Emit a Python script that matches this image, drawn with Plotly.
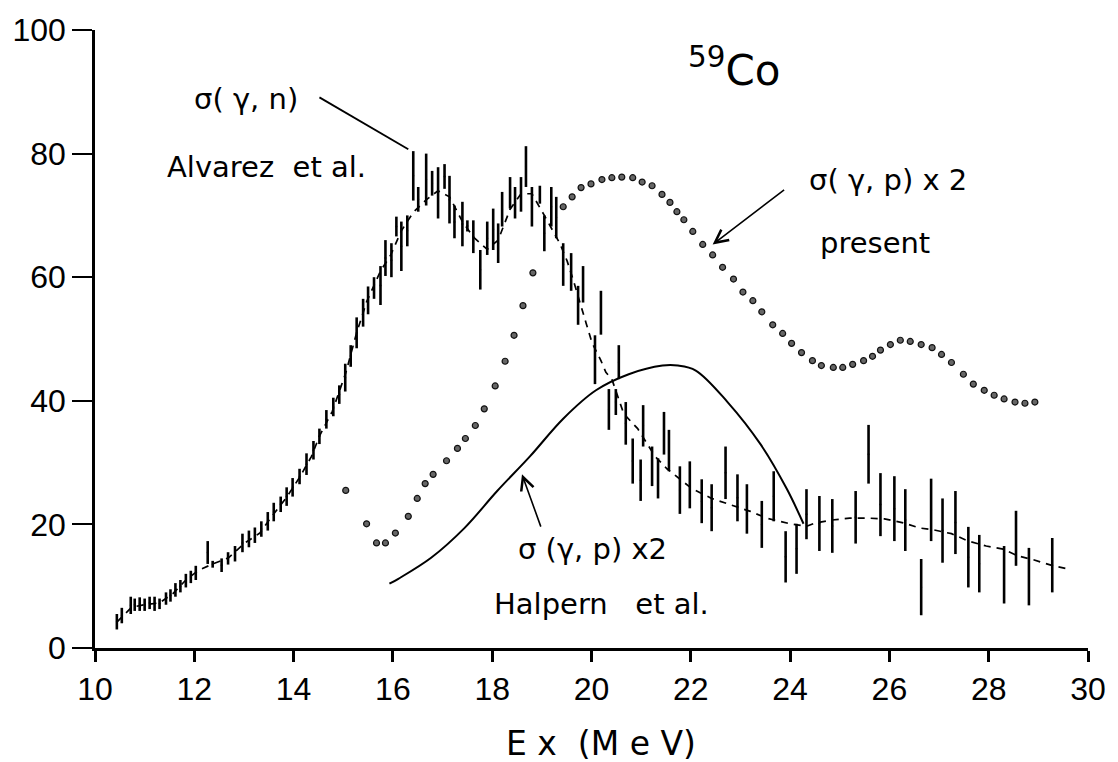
import plotly.graph_objects as go

# ---------------- data ----------------
# sigma(gamma,n) Alvarez et al. : error bars (x, low, high)
aln_x = [10.44, 10.54, 10.72, 10.80, 10.90, 11.00, 11.10, 11.20, 11.30, 11.43,
         11.52, 11.62, 11.72, 11.83, 11.93, 12.03, 12.27, 12.37, 12.55, 12.68,
         12.82, 12.97, 13.10, 13.22, 13.35, 13.48, 13.60, 13.74, 13.86, 13.98,
         14.12, 14.26, 14.40, 14.52, 14.66, 14.80, 14.92, 15.04, 15.15, 15.27,
         15.40, 15.50, 15.62, 15.75, 15.85, 15.97, 16.07, 16.17, 16.29, 16.41,
         16.51, 16.67, 16.79, 16.91, 17.04, 17.14, 17.24, 17.40, 17.50, 17.62,
         17.76, 17.90, 18.02, 18.12, 18.20, 18.36, 18.46, 18.58, 18.68, 18.80,
         18.96, 19.05, 19.19, 19.29, 19.43, 19.59, 19.73, 19.83, 20.07, 20.19,
         20.35, 20.49, 20.55, 20.69, 20.83, 20.99, 21.04, 21.22, 21.34, 21.46,
         21.56, 21.78, 21.98, 22.22, 22.42, 22.70, 22.94, 23.13, 23.43, 23.67,
         23.91, 24.13, 24.33, 24.59, 24.85, 25.32, 25.58, 25.82, 26.10, 26.32,
         26.64, 26.84, 27.07, 27.33, 27.59, 27.81, 28.31, 28.55, 28.81, 29.28]
aln_lo = [3.0, 4.0, 5.5, 6.0, 6.0, 6.0, 6.3, 6.0, 6.3, 7.0,
          7.5, 8.3, 9.0, 9.8, 10.5, 11.0, 13.6, 13.0, 12.3, 13.5,
          14.0, 15.5, 16.3, 17.0, 18.0, 19.0, 20.5, 22.0, 23.0, 24.5,
          26.5, 28.0, 30.5, 33.0, 35.5, 37.5, 39.5, 41.5, 45.5, 48.5,
          52.0, 54.0, 56.5, 55.5, 60.2, 60.0, 66.6, 61.0, 65.0, 72.4,
          70.6, 71.6, 73.2, 69.5, 74.3, 68.7, 66.3, 65.0, 67.4, 63.9,
          58.0, 63.6, 64.4, 62.3, 68.2, 71.1, 69.5, 70.6, 74.6, 68.2,
          71.9, 64.2, 68.2, 66.3, 58.6, 57.8, 52.3, 55.9, 42.7, 50.7,
          35.3, 37.7, 43.5, 32.9, 26.6, 23.8, 32.6, 26.2, 24.2, 31.3,
          28.6, 21.7, 22.6, 20.2, 18.9, 24.1, 20.5, 18.5, 16.2, 20.5,
          10.6, 12.0, 17.6, 15.7, 15.4, 16.9, 26.6, 18.1, 17.3, 15.7,
          5.3, 17.3, 13.8, 15.2, 9.8, 9.0, 7.2, 13.3, 6.9, 9.0]
aln_hi = [5.5, 6.5, 8.3, 8.0, 8.2, 8.0, 8.3, 8.3, 8.0, 9.0,
          9.5, 10.5, 11.0, 12.0, 12.5, 13.3, 17.3, 14.1, 14.5, 15.5,
          16.5, 18.5, 19.0, 19.5, 20.5, 22.0, 23.5, 24.5, 26.0, 27.5,
          29.0, 31.5, 33.5, 35.5, 38.5, 40.5, 42.5, 46.0, 49.0, 53.5,
          56.5, 58.5, 60.0, 61.8, 66.0, 65.5, 69.8, 69.0, 70.0, 80.4,
          74.6, 80.0, 77.2, 77.8, 78.3, 76.4, 71.6, 72.2, 69.2, 69.2,
          64.4, 69.0, 71.1, 68.7, 73.8, 76.2, 74.6, 76.2, 81.2, 74.6,
          74.8, 70.0, 74.6, 73.0, 65.5, 63.9, 58.6, 61.8, 50.6, 57.8,
          41.9, 41.9, 49.0, 39.8, 33.9, 30.5, 39.3, 32.6, 30.7, 38.2,
          35.3, 29.4, 30.2, 27.3, 26.5, 32.6, 28.1, 26.5, 23.8, 28.6,
          18.9, 20.1, 25.7, 24.6, 24.1, 25.4, 36.1, 28.3, 27.8, 25.7,
          14.4, 27.4, 24.2, 25.4, 19.6, 18.3, 16.5, 22.2, 16.2, 17.8]

# dashed curve through the Alvarez data
fit_x = [10.44, 10.74, 11.00, 11.30, 11.57, 11.83, 12.09, 12.37, 12.69, 13.02,
         13.32, 13.58, 13.86, 14.12, 14.36, 14.52, 14.78, 15.05, 15.27, 15.47,
         15.75, 15.95, 16.17, 16.41, 16.67, 16.91, 17.14, 17.40, 17.62, 17.90,
         18.12, 18.36, 18.58, 18.80, 19.05, 19.36, 19.51, 19.65, 19.89, 20.01,
         20.19, 20.29, 20.41, 20.65, 20.93, 21.28, 21.52, 22.02, 22.42, 22.74,
         23.20, 23.53, 24.00, 24.33, 24.50, 24.83, 25.20, 25.60, 25.90, 26.30,
         26.62, 26.90, 27.25, 27.59, 27.95, 28.29, 28.59, 28.89, 29.30, 29.60]
fit_y = [4.2, 6.6, 7.0, 7.3, 8.8, 11.0, 12.6, 13.6, 14.6, 17.0,
         18.6, 21.5, 24.4, 27.6, 31.0, 34.3, 38.3, 44.5, 51.0, 56.0,
         61.0, 63.5, 67.5, 70.5, 72.5, 74.0, 73.0, 69.0, 66.5, 64.5,
         66.0, 71.0, 73.5, 73.5, 70.0, 65.5, 62.6, 59.1, 52.6, 49.4,
         46.5, 44.6, 43.5, 37.9, 35.5, 31.0, 29.0, 25.8, 24.2, 23.3,
         22.1, 21.0, 20.1, 19.7, 20.2, 20.7, 21.0, 21.0, 20.9, 20.2,
         19.4, 19.1, 18.5, 17.3, 16.5, 16.0, 14.9, 14.3, 13.3, 12.8]

# sigma(gamma,p) x 2, present (dotted)
prs_x = [15.05, 15.47, 15.67, 15.85, 16.05, 16.31, 16.49, 16.65, 16.81, 17.08,
         17.30, 17.46, 17.66, 17.84, 18.06, 18.26, 18.44, 18.62, 18.82, 19.43,
         19.61, 19.79, 19.99, 20.21, 20.41, 20.61, 20.83, 21.02, 21.22, 21.42,
         21.58, 21.72, 21.86, 22.04, 22.24, 22.44, 22.64, 22.86, 23.05, 23.25,
         23.43, 23.65, 23.85, 24.03, 24.23, 24.45, 24.63, 24.87, 25.06, 25.26,
         25.48, 25.66, 25.82, 26.02, 26.22, 26.42, 26.64, 26.86, 27.05, 27.25,
         27.49, 27.69, 27.91, 28.11, 28.31, 28.53, 28.73, 28.93]
prs_y = [25.5, 20.1, 17.0, 17.0, 18.6, 21.3, 24.2, 26.6, 28.1, 30.3,
         32.3, 33.9, 36.0, 38.7, 42.4, 46.4, 50.6, 55.4, 60.7, 71.4,
         73.0, 74.5, 75.1, 75.8, 76.1, 76.2, 76.1, 75.4, 74.8, 73.4,
         72.1, 70.6, 69.3, 67.4, 65.3, 63.6, 61.6, 59.7, 57.6, 56.2,
         54.4, 52.3, 50.9, 49.3, 47.8, 46.5, 45.7, 45.4, 45.4, 45.9,
         46.5, 47.2, 48.2, 49.1, 49.8, 49.6, 49.1, 48.6, 47.5, 46.2,
         44.3, 42.7, 41.7, 40.9, 40.3, 39.8, 39.6, 39.8]

# sigma(gamma,p) x 2, Halpern et al. (solid)
hal_x = [15.93, 16.11, 16.77, 17.44, 18.10, 18.76, 19.43, 20.09, 20.75, 21.43,
         21.74, 22.10, 22.74, 23.41, 23.93, 24.27]
hal_y = [10.4, 11.2, 14.6, 19.4, 25.4, 31.0, 37.1, 41.7, 44.3, 45.7,
         45.7, 44.9, 39.8, 32.9, 25.8, 20.1]

x_ticks = [10, 12, 14, 16, 18, 20, 22, 24, 26, 28, 30]
y_ticks = [0, 20, 40, 60, 80, 100]

# ---------------- figure ----------------
mid = [(a + b) / 2 for a, b in zip(aln_lo, aln_hi)]
half = [(b - a) / 2 for a, b in zip(aln_lo, aln_hi)]

fig = go.Figure()

fig.add_trace(go.Scatter(
    x=fit_x, y=fit_y, mode="lines",
    line=dict(color="black", width=1.7, dash="7px,6px"),
    hoverinfo="skip", showlegend=False))

fig.add_trace(go.Scatter(
    x=aln_x, y=mid, mode="markers",
    marker=dict(size=2, color="black"),
    error_y=dict(type="data", array=half, visible=True,
                 color="black", thickness=2.6, width=0),
    showlegend=False))

fig.add_trace(go.Scatter(
    x=hal_x, y=hal_y, mode="lines",
    line=dict(color="black", width=2.0, shape="spline", smoothing=1.0),
    showlegend=False))

fig.add_trace(go.Scatter(
    x=prs_x, y=prs_y, mode="markers",
    marker=dict(size=6, color="#666666", line=dict(color="#111111", width=1.2)),
    showlegend=False))

TXT = "DejaVu Sans, Liberation Sans, sans-serif"

fig.update_layout(
    width=1118, height=762,
    margin=dict(l=93, r=20, t=25, b=114),
    paper_bgcolor="white", plot_bgcolor="white",
    showlegend=False,
    font=dict(family="Liberation Sans, Arial, sans-serif", color="black"),
)

fig.update_xaxes(
    range=[10, 30], tickvals=x_ticks, ticktext=[str(v) for v in x_ticks],
    showgrid=False, zeroline=False,
    showline=True, linecolor="black", linewidth=2.5,
    ticks="outside", ticklen=11, tickwidth=2.5, tickcolor="black",
    tickfont=dict(size=32, color="black"),
)
fig.update_yaxes(
    range=[0, 100], tickvals=y_ticks, ticktext=[str(v) for v in y_ticks],
    showgrid=False, zeroline=False,
    showline=True, linecolor="black", linewidth=2.5,
    ticks="outside", ticklen=20, tickwidth=2.2, tickcolor="black",
    tickfont=dict(size=32, color="black"),
)

def label(text, x, y, size=29, yref="y"):
    fig.add_annotation(x=x, y=y, xref="x", yref=yref, text=text, showarrow=False,
                       font=dict(family=TXT, size=size, color="black"),
                       xanchor="center", yanchor="middle")

label("σ( γ, n)", 13.04, 88.8, 29)
label("Alvarez  et al.", 13.46, 77.8, 29)
label("<sup>59</sup>Co", 22.88, 94.0, 42)
label("σ( γ, p) x 2", 25.98, 75.8, 29)
label("present", 25.70, 65.6, 29)
label("σ (γ, p) x2", 20.01, 16.1, 29)
label("Halpern   et al.", 20.21, 7.2, 29)
label("E x  (M e V)", 20.19, -0.154, 33, yref="paper")

# leader line for sigma(gamma,n)
fig.add_shape(type="line", xref="x", yref="y", x0=14.52, y0=89.1, x1=16.31, y1=80.7,
              line=dict(color="black", width=1.8))

# arrows
fig.add_annotation(x=22.44, y=65.3, ax=23.91, ay=74.3, xref="x", yref="y",
                   axref="x", ayref="y", text="", showarrow=True,
                   arrowhead=5, arrowsize=1.6, arrowwidth=1.6, arrowcolor="black")
fig.add_annotation(x=18.60, y=28.1, ax=18.99, ay=19.4, xref="x", yref="y",
                   axref="x", ayref="y", text="", showarrow=True,
                   arrowhead=5, arrowsize=1.6, arrowwidth=1.6, arrowcolor="black")

fig.write_html("out.html")
